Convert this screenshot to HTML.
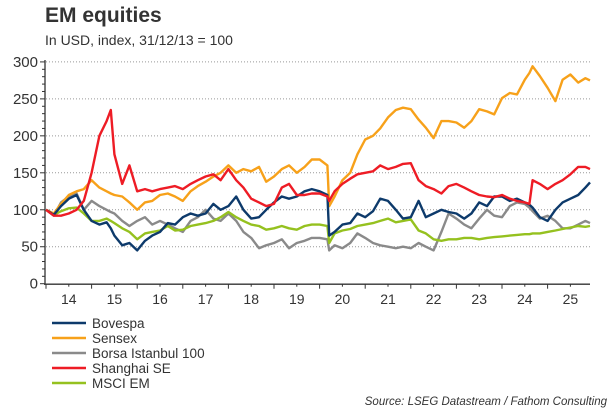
<!DOCTYPE html>
<html><head><meta charset="utf-8"><style>
body{margin:0;background:#fff;width:615px;height:410px;overflow:hidden;font-family:"Liberation Sans",sans-serif;}
</style></head><body>
<svg id="chart" width="615" height="410" xmlns="http://www.w3.org/2000/svg" font-family="Liberation Sans, sans-serif">
<text x="45" y="22" font-size="21" font-weight="bold" fill="#333">EM equities</text>
<text x="45" y="45" font-size="14" fill="#333">In USD, index, 31/12/13 = 100</text>
<g id="grid"></g><g id="axes"></g><g id="series"></g>
<g id="legend"></g>
<text x="607" y="405" font-size="11.5" font-style="italic" fill="#333" text-anchor="end">Source: LSEG Datastream / Fathom Consulting</text>
</svg>
<script>
const dates=[2014,2014.17,2014.33,2014.5,2014.67,2014.83,
2015,2015.17,2015.33,2015.42,2015.5,2015.67,2015.83,
2016,2016.17,2016.33,2016.5,2016.67,2016.83,
2017,2017.17,2017.33,2017.5,2017.67,2017.83,
2018,2018.17,2018.33,2018.5,2018.67,2018.83,
2019,2019.17,2019.33,2019.5,2019.67,2019.83,
2020,2020.17,2020.21,2020.33,2020.5,2020.67,2020.83,
2021,2021.17,2021.33,2021.5,2021.67,2021.83,
2022,2022.17,2022.33,2022.5,2022.67,2022.83,
2023,2023.17,2023.33,2023.5,2023.67,2023.83,
2024,2024.17,2024.33,2024.5,2024.6,2024.67,2024.83,
2025,2025.17,2025.33,2025.5,2025.67,2025.83,2025.93];
const bovespa=[100,93,105,115,120,100, 85,80,83,75,65,52,55, 45,58,65,70,82,80, 90,95,92,95,108,100, 105,118,100,88,90,100, 110,118,115,118,125,128, 125,120,65,70,80,82,95, 90,98,115,112,100,88, 90,112,90,95,100,97, 95,88,95,110,105,118, 118,112,115,110,107,103,90, 85,100,110,115,120,130,137];
const sensex=[100,95,108,120,125,128, 140,130,125,122,120,118,110, 100,110,112,120,122,118, 112,125,132,138,145,150, 160,150,155,152,158,138, 145,155,160,150,158,168, 168,160,105,118,140,150,175, 195,200,210,225,235,238, 236,222,211,197,220,220, 218,211,220,236,233,229, 251,258,256,276,285,294,281, 265,247,276,283,272,278,275];
const borsa=[100,92,110,118,122,100, 112,105,100,97,95,85,78, 85,90,80,85,80,75, 70,85,90,100,88,85, 95,85,70,62,48,52, 55,60,48,55,58,62, 62,60,45,52,48,55,68, 62,55,52,50,48,50, 48,55,50,45,70,95, 88,80,75,88,100,92, 90,105,110,108,103,98,88, 92,85,75,75,80,85,82];
const shanghai=[100,92,92,95,100,112, 150,200,220,235,175,135,160, 125,128,125,128,130,132, 128,135,140,145,148,140, 155,140,130,115,110,105, 108,130,135,120,120,122, 122,118,112,125,135,142,148, 150,152,160,155,158,162, 163,140,132,128,122,132, 135,130,125,120,118,117, 120,115,112,110,108,140,135, 128,135,140,148,158,158,155];
const msci=[100,93,98,102,103,95, 85,85,88,85,82,75,70, 60,68,70,72,78,72, 73,78,80,82,85,90, 97,90,85,80,78,73, 75,78,75,73,78,80, 80,78,55,68,72,74,78, 80,82,85,88,83,85, 87,72,68,60,58,60, 60,62,62,60,62,63, 64,65,66,67,67,68,68, 70,72,74,76,78,77,78];
const yTicks=[0,50,100,150,200,250,300];
const xYears=[2014,2015,2016,2017,2018,2019,2020,2021,2022,2023,2024,2025];
const xLabels=["14","15","16","17","18","19","20","21","22","23","24","25"];
const seriesNames=["Bovespa","Sensex","Borsa Istanbul 100","Shanghai SE","MSCI EM"];

const NS="http://www.w3.org/2000/svg";
const X0=46,YW=45.6,Y0=283.7,YS=0.7393,XR=590;
function xs(t){return X0+(t-2014)*YW;}
function ys(v){return Y0-v*YS;}
function mk(tag,attrs,parent){const e=document.createElementNS(NS,tag);for(const k in attrs)e.setAttribute(k,attrs[k]);parent.appendChild(e);return e;}
const grid=document.getElementById('grid'),axes=document.getElementById('axes'),ser=document.getElementById('series'),leg=document.getElementById('legend');
yTicks.forEach(v=>{
  if(v>0){const g=mk('line',{x1:X0,x2:XR,y1:ys(v),y2:ys(v),stroke:'#999','stroke-width':1,'stroke-dasharray':'1,2'},grid);
  
  }
  const t=mk('text',{x:38,y:ys(v)+5,'font-size':15,fill:'#333','text-anchor':'end'},axes);t.textContent=v;
  
  
});
for(let v=0;v<=300;v+=10){mk('line',{x1:v%50?42:40,x2:45,y1:ys(v),y2:ys(v),stroke:'#333','stroke-width':1},axes);}
const ya=mk('line',{x1:45,x2:45,y1:60,y2:Y0+0.5,stroke:'#333','stroke-width':1.3},axes);


const xa=mk('line',{x1:44,x2:XR,y1:Y0+0.5,y2:Y0+0.5,stroke:'#333','stroke-width':1.3},axes);


xYears.forEach((yr,i)=>{
  mk('line',{x1:xs(yr),x2:xs(yr),y1:Y0,y2:Y0+5,stroke:'#333','stroke-width':1},axes);
  mk('line',{x1:xs(yr+0.5),x2:xs(yr+0.5),y1:Y0,y2:Y0+3,stroke:'#333','stroke-width':1},axes);
  const t=mk('text',{x:xs(yr+0.5),y:304,'font-size':14,fill:'#333','text-anchor':'middle'},axes);t.textContent=xLabels[i];
  
  
});
const all=[bovespa,sensex,borsa,shanghai,msci];
const colors=['#0d3a6b','#f7a11a','#8a8a8a','#ee1c25','#95c11f'];
const order=[2,4,1,0,3];
order.forEach(i=>{
  const d=all[i].map((v,j)=>(j?'L':'M')+xs(dates[j]).toFixed(1)+','+ys(v).toFixed(1)).join('');
  const p=mk('path',{d:d,fill:'none',stroke:colors[i],'stroke-width':2.4,'stroke-linejoin':'round'},ser);
  
  
});
seriesNames.forEach((n,i)=>{
  const y=323+i*15;
  const g=mk('g',{},leg);
  
  
  mk('line',{x1:52,x2:86,y1:y,y2:y,stroke:colors[i],'stroke-width':2.5},g);
  const t=mk('text',{x:92,y:y+5,'font-size':13.5,fill:'#333'},g);t.textContent=n;
});
</script>
</body></html>
